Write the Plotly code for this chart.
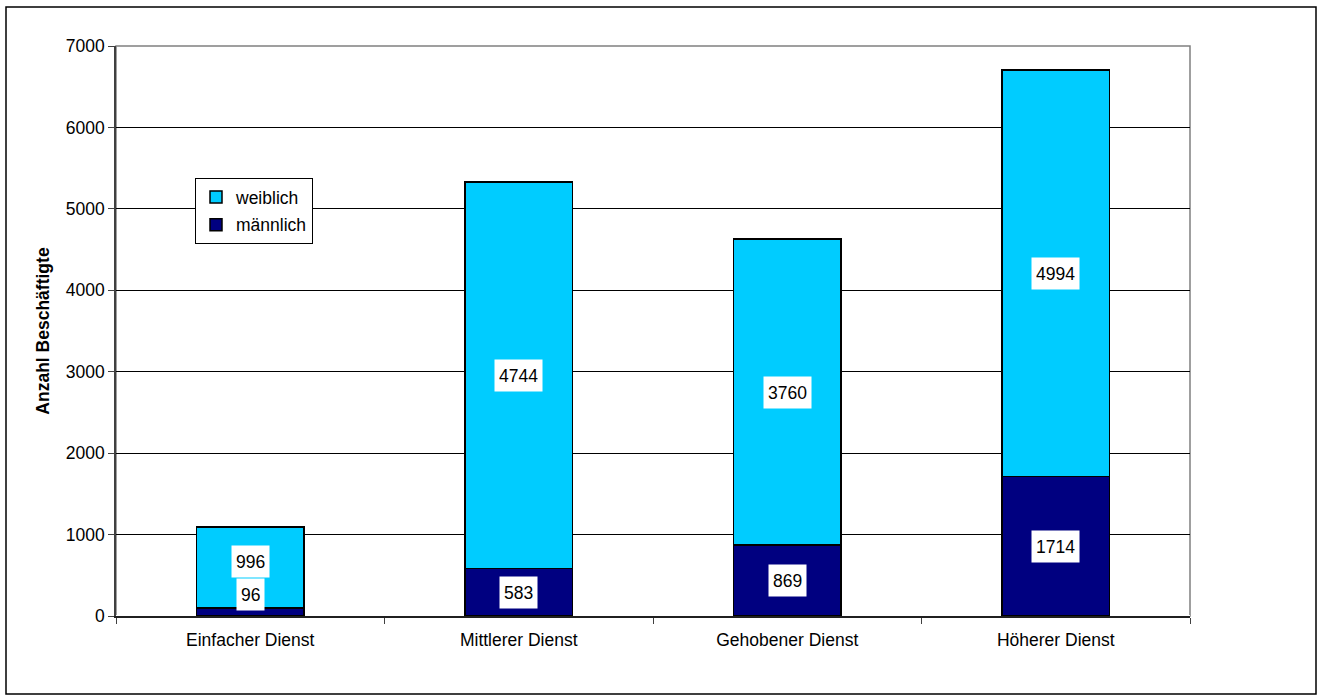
import plotly.graph_objects as go

categories = ["Einfacher Dienst", "Mittlerer Dienst", "Gehobener Dienst", "Höherer Dienst"]
maennlich = [96, 583, 869, 1714]
weiblich = [996, 4744, 3760, 4994]
y_ticks = [0, 1000, 2000, 3000, 4000, 5000, 6000, 7000]

FONT = "Liberation Sans, Arial, sans-serif"
FS = 17.5
C_W = "#00CCFF"
C_M = "#000080"

fig = go.Figure()
fig.add_trace(go.Bar(x=categories, y=maennlich, name="männlich", legendgroup="m",
                     legendrank=2,
                     marker=dict(color=C_M, line=dict(color="#000000", width=1.5)),
                     width=0.4))
fig.add_trace(go.Bar(x=categories, y=weiblich, name="weiblich", legendgroup="w",
                     legendrank=1,
                     marker=dict(color=C_W, line=dict(color="#000000", width=1.5)),
                     width=0.4))

# data labels
plot_h = 570.0
ymax = 7000.0
label_h = 31
lab = dict(showarrow=False, bgcolor="white", borderpad=4, height=23,
           font=dict(family=FONT, size=FS, color="black"))
for c, m, w in zip(categories, maennlich, weiblich):
    m_px = m / ymax * plot_h
    if m_px < label_h:
        fig.add_annotation(x=c, y=0, text=str(m), yanchor="bottom", yshift=5, **lab)
        fig.add_annotation(x=c, y=m + w / 2, text=str(w), yshift=6, **lab)
    else:
        fig.add_annotation(x=c, y=m / 2, text=str(m), **lab)
        fig.add_annotation(x=c, y=m + w / 2, text=str(w), **lab)

L, R, T, B = 116, 1190, 46, 616
W, H = 1318, 700
pw, ph = R - L, B - T

def px(x):
    return (x - L) / pw

def py(y):
    return (B - y) / ph

# outer border
fig.add_shape(type="rect", xref="paper", yref="paper",
              x0=px(6), x1=px(1316), y0=py(694), y1=py(7),
              line=dict(color="#000000", width=1.5), fillcolor="rgba(0,0,0,0)", layer="below")
# plot area border (gray)
fig.add_shape(type="rect", xref="paper", yref="paper",
              x0=0, x1=1, y0=0, y1=1,
              line=dict(color="#808080", width=1.5), fillcolor="rgba(0,0,0,0)", layer="below")

fig.update_layout(
    width=W, height=H,
    margin=dict(l=L, r=W - R, t=T, b=H - B),
    barmode="stack",
    paper_bgcolor="white", plot_bgcolor="white",
    font=dict(family=FONT, size=FS, color="black"),
    showlegend=True,
    legend=dict(x=px(195), y=py(178), xanchor="left", yanchor="top",
                traceorder="grouped", tracegroupgap=2, bgcolor="white",
                bordercolor="#000000", borderwidth=1,
                font=dict(family=FONT, size=FS, color="black"),
                itemwidth=30),
    xaxis=dict(type="category", showgrid=False, ticks="outside", tickson="boundaries",
               ticklen=6, tickcolor="#404040", showline=True, linecolor="#202020",
               linewidth=1.5, tickfont=dict(family=FONT, size=FS, color="black"),
               ticklabelstandoff=7, range=[-0.5, 3.5]),
    yaxis=dict(range=[0, 7000], tickvals=y_ticks, ticks="outside", ticklen=6,
               tickcolor="#404040", showline=True, linecolor="#404040", linewidth=1.5,
               showgrid=True, gridcolor="#000000", gridwidth=1,
               tickfont=dict(family=FONT, size=FS, color="black"),
               title=dict(text="<b>Anzahl Beschäftigte</b>", standoff=12,
                          font=dict(family=FONT, size=FS, color="black"))),
)

fig.write_html("out.html")
